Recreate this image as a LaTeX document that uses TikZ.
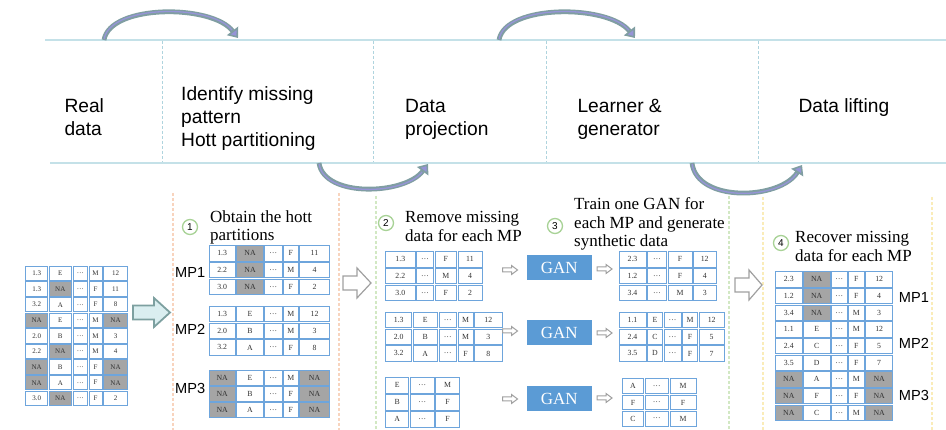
\documentclass[tikz,border=0pt]{standalone}
\usepackage{fontspec}
\setmainfont{Liberation Serif}
\newfontfamily\arialf{Liberation Sans}
\usetikzlibrary{arrows.meta}
\definecolor{bannerline}{RGB}{196,225,232}
\definecolor{sepline}{RGB}{175,212,222}
\definecolor{arrteal}{RGB}{128,158,162}
\definecolor{arrlav}{RGB}{150,148,215}
\definecolor{cellblue}{RGB}{110,165,220}
\definecolor{cellgray}{RGB}{165,165,165}
\definecolor{ganblue}{RGB}{91,155,213}
\definecolor{orangedash}{RGB}{248,212,190}
\definecolor{greendash}{RGB}{210,232,195}
\definecolor{yellowdash}{RGB}{250,236,185}
\definecolor{circgreen}{RGB}{168,210,150}
\definecolor{bigfill}{RGB}{218,238,240}
\definecolor{bigdraw}{RGB}{125,160,160}
\definecolor{hollowgray}{RGB}{160,160,160}
\def\na{NA}
\newcommand\mktable[5]{%
  \foreach \rowlist [count=\j] in {#5} {%
    \foreach \cv [count=\i] in \rowlist {%
      \pgfmathsetmacro\xl{#2[\i-1]}%
      \pgfmathsetmacro\xr{#2[\i]}%
      \pgfmathsetmacro\yt{#3+(\j-1)*#4}%
      \pgfmathsetmacro\yb{\yt+#4}%
      \edef\tmp{\cv}%
      \ifx\tmp\na\def\cellfill{cellgray}\else\def\cellfill{white}\fi
      \draw[cellline, fill=\cellfill] ({\xl+0.6},{\yt+0.6}) rectangle ({\xr-0.6},{\yb-0.6});
      \node[celltext] (#1-\j-\i) at ({(\xl+\xr)/2},{(\yt+\yb)/2}) {\cv};
    }%
  }%
}
\newcommand\smallarr[2]{%
  \draw[hollowarr] ({#1-7.5},{#2-2}) -- ({#1+1.5},{#2-2}) -- ({#1+1.5},{#2-4.5}) -- ({#1+7.5},{#2}) -- ({#1+1.5},{#2+4.5}) -- ({#1+1.5},{#2+2}) -- ({#1-7.5},{#2+2}) -- cycle;}
\newcommand\bigarr[7]{% x0 xbase xtip yc shafthalf headhalf style
  \draw[#7] (#1,{#4-#5}) -- (#2,{#4-#5}) -- (#2,{#4-#6}) -- (#3,#4) -- (#2,{#4+#6}) -- (#2,{#4+#5}) -- (#1,{#4+#5}) -- cycle;}
\def\colsL{{25,48.3,72.3,88.3,102.7,128.3}}
\def\colsP{{208.3,236,264,282.7,299,330}}
\def\colsAa{{385,415.7,434.3,457.3,482.7}}
\def\colsAb{{385,412.3,438.3,457.3,474,502.7}}
\def\colsAc{{385,409.3,435,460}}
\def\colsBa{{618.3,646.7,667.3,692.7,716.7}}
\def\colsBb{{618.3,646.7,663.3,681.7,698.3,725}}
\def\colsBc{{621.7,644.3,669.3,696.7}}
\def\colsR{{775,802.7,830.7,847.7,865,893.3}}
\begin{document}
\begin{tikzpicture}[x=1pt,y=-1pt,
  banner/.style={draw=bannerline, line width=1.2pt},
  bannersep/.style={draw=sepline, line width=0.6pt, dash pattern=on 3pt off 2pt},
  curvarr/.style={draw=arrteal, line width=4.8pt, -{Triangle[length=9pt,width=14pt,line width=1.6pt,fill=arrlav]}},
  curvin/.style={draw=arrlav, line width=1.3pt, shorten >=10pt, shorten <=1pt},
  btext/.style={anchor=base west, inner sep=0pt, font=\arialf\fontsize{19.2}{23}\selectfont},
  ptext/.style={anchor=base west, inner sep=0pt, font=\fontsize{17}{18}\selectfont},
  mptext/.style={anchor=base west, inner sep=0pt, font=\arialf\fontsize{14.6}{15}\selectfont},
  cellline/.style={draw=cellblue, line width=0.8pt},
  celltext/.style={inner sep=0pt, text=black!80, font=\fontsize{7.8}{8}\selectfont},
  ganbox/.style={fill=ganblue, minimum width=65pt, minimum height=25pt, inner sep=0pt, text=white, font=\fontsize{17}{17}\selectfont},
  numcirc/.style={circle, draw=circgreen, line width=1.3pt, minimum size=15pt, inner sep=0pt, font=\arialf\fontsize{10}{10}\selectfont},
  hollowarr/.style={draw=hollowgray, line width=1pt, fill=white},
  bighollow/.style={draw=hollowgray, line width=1.2pt, fill=white},
  bigblock/.style={draw=bigdraw, line width=1.8pt, fill=bigfill},
  odash/.style={draw=orangedash, line width=1.5pt, dash pattern=on 3pt off 2pt},
  gdash/.style={draw=greendash, line width=1.5pt, dash pattern=on 3pt off 2pt},
  ydash/.style={draw=yellowdash, line width=1.5pt, dash pattern=on 3pt off 2pt}]
\useasboundingbox (0,0) rectangle (946,430);
% banner
\draw[banner] (45,40) -- (946,40);
\draw[banner] (50,163) -- (946,163);
\foreach \sx in {162,373,546,758} \draw[bannersep] (\sx,41) -- (\sx,162);
\node[btext] (real1) at (64.3,112.7) {Real};
\node[btext] (real2) at (64.3,135.2) {data};
\node[btext] (id1) at (181,101) {Identify missing};
\node[btext] (id2) at (181,124) {pattern};
\node[btext] (id3) at (181,147) {Hott partitioning};
\node[btext] (dp1) at (405,112.7) {Data};
\node[btext] (dp2) at (405,135.2) {projection};
\node[btext] (lg1) at (577.3,112.7) {Learner \&};
\node[btext] (lg2) at (577.3,135.2) {generator};
\node[btext] (dl) at (798.3,113) {Data lifting};
% curved arrows
\coordinate (t1s) at (104,40); \coordinate (t1e) at (238,38);
\coordinate (t2s) at (499,40); \coordinate (t2e) at (635,38);
\coordinate (b1s) at (319,163); \coordinate (b1e) at (428,164);
\coordinate (b2s) at (692,163); \coordinate (b2e) at (802,165);
\draw[curvarr] (t1s) .. controls (110,4) and (212,4) .. (t1e);
\draw[curvarr] (t2s) .. controls (505,4) and (608,4) .. (t2e);
\draw[curvarr] (b1s) .. controls (324,198) and (405,195) .. (b1e);
\draw[curvarr] (b2s) .. controls (697,203) and (780,200) .. (b2e);
\draw[curvin] (t1s) .. controls (110,4) and (212,4) .. (t1e);
\draw[curvin] (t2s) .. controls (505,4) and (608,4) .. (t2e);
\draw[curvin] (b1s) .. controls (324,198) and (405,195) .. (b1e);
\draw[curvin] (b2s) .. controls (697,203) and (780,200) .. (b2e);
% panel separators
\draw[odash] (173,193) -- (173,430);
\draw[odash] (339,193) -- (339,430);
\draw[gdash] (376,196) -- (376,430);
\draw[gdash] (729,196) -- (729,430);
\draw[ydash] (763,197) -- (763,430);
\draw[ydash] (932,197) -- (932,430);
% left table
\begin{scope}[celltext/.style={inner sep=0pt, text=black!80, font=\fontsize{7}{8}\selectfont}]
\mktable{L}{\colsL}{265.7}{15.6}{{1.3,E,…,M,12},{1.3,NA,…,F,11},{3.2,A,…,F,8},{NA,E,…,M,NA},{2.0,B,…,M,3},{2.2,NA,…,M,4},{NA,B,…,F,NA},{NA,A,…,F,NA},{3.0,NA,…,F,2}}
\end{scope}
\bigarr{133}{154}{170}{312.5}{7}{14.5}{bigblock}
% panel 1
\node[numcirc] (n1) at (190,227) {1};
\node[ptext] (o1) at (210,223) {Obtain the hott};
\node[ptext] (o2) at (210,241) {partitions};
\mktable{P1}{\colsP}{245}{16.7}{{1.3,NA,…,F,11},{2.2,NA,…,M,4},{3.0,NA,…,F,2}}
\mktable{P2}{\colsP}{305.7}{16.7}{{1.3,E,…,M,12},{2.0,B,…,M,3},{3.2,A,…,F,8}}
\mktable{P3}{\colsP}{370}{16}{{NA,E,…,M,NA},{NA,B,…,F,NA},{NA,A,…,F,NA}}
\node[mptext] (mpa1) at (175,277.3) {MP1};
\node[mptext] (mpa2) at (175,335) {MP2};
\node[mptext] (mpa3) at (175,394) {MP3};
\bigarr{343}{357}{371}{283}{7}{15}{bighollow}
% panel 2
\node[numcirc] (n2) at (386,223) {2};
\node[ptext] (r1) at (405,223) {Remove missing};
\node[ptext] (r2) at (405,242) {data for each MP};
\mktable{A1}{\colsAa}{251}{16.7}{{1.3,…,F,11},{2.2,…,M,4},{3.0,…,F,2}}
\mktable{A2}{\colsAb}{311.7}{16.7}{{1.3,E,…,M,12},{2.0,B,…,M,3},{3.2,A,…,F,8}}
\mktable{A3}{\colsAc}{376.7}{17}{{E,…,M},{B,…,F},{A,…,F}}
\smallarr{510}{270}
\smallarr{510}{331}
\smallarr{510}{399}
\node[ganbox] (g1) at (559.2,267.5) {GAN};
\node[ganbox] (g2) at (559.2,332.5) {GAN};
\node[ganbox] (g3) at (559.2,398.5) {GAN};
\smallarr{604.5}{269}
\smallarr{604.5}{333}
\smallarr{604.5}{398}
% panel 3
\node[numcirc] (n3) at (555,226) {3};
\node[ptext] (s1) at (574,210) {Train one GAN for};
\node[ptext] (s2) at (574,228.5) {each MP and generate};
\node[ptext] (s3) at (574,247) {synthetic data};
\mktable{B1}{\colsBa}{251}{16.7}{{2.3,…,F,12},{1.2,…,F,4},{3.4,…,M,3}}
\mktable{B2}{\colsBb}{311.7}{16.7}{{1.1,E,…,M,12},{2.4,C,…,F,5},{3.5,D,…,F,7}}
\mktable{B3}{\colsBc}{378.3}{16.1}{{A,…,M},{F,…,F},{C,…,M}}
\bigarr{735}{749}{762}{285}{7}{15}{bighollow}
% panel 4
\node[numcirc] (n4) at (781,243) {4};
\node[ptext] (v1) at (795,243) {Recover missing};
\node[ptext] (v2) at (795,262) {data for each MP};
\mktable{R}{\colsR}{271}{16.67}{{2.3,NA,…,F,12},{1.2,NA,…,F,4},{3.4,NA,…,M,3},{1.1,E,…,M,12},{2.4,C,…,F,5},{3.5,D,…,F,7},{NA,A,…,M,NA},{NA,F,…,F,NA},{NA,C,…,M,NA}}
\node[mptext] (mpb1) at (898.7,302.3) {MP1};
\node[mptext] (mpb2) at (898.7,349) {MP2};
\node[mptext] (mpb3) at (898.7,401) {MP3};
\end{tikzpicture}
\end{document}
